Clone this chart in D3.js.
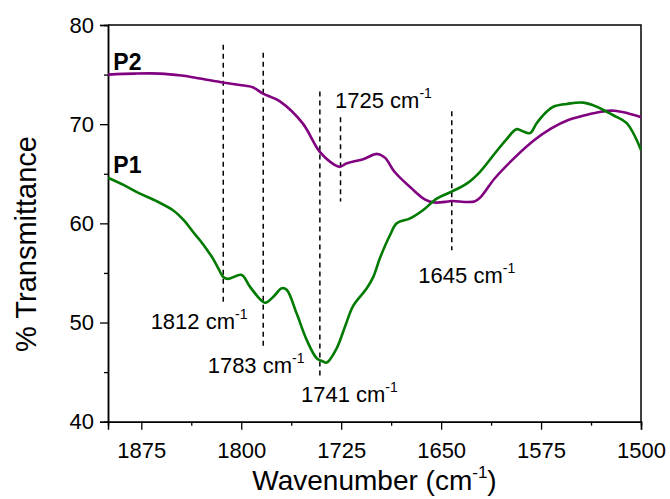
<!DOCTYPE html>
<html><head><meta charset="utf-8">
<script src="https://cdn.jsdelivr.net/npm/d3@7"></script>
<style>
html,body{margin:0;padding:0;background:#fff;}
text{font-family:"Liberation Sans",Arial,sans-serif;fill:#000;}
</style></head>
<body><svg id="chart" width="670" height="499"></svg>
<script>
// ---- data ----
const p2Wavenumber = [1900,1880,1861,1845,1831,1814,1801,1791,1784,1771,1754,1741,1730,1726,1721,1708,1698,1692,1685,1672,1662,1655,1645,1642,1625,1620,1610,1595,1580,1567,1555,1542,1530,1520,1510,1500];
const p2Trans      = [75.0,75.1,75.1,74.9,74.6,74.2,73.95,73.7,73.1,72.3,70.1,67.2,65.9,65.7,66.05,66.5,67.0,66.6,65.2,63.5,62.4,62.1,62.2,62.25,62.2,62.7,64.5,66.6,68.4,69.6,70.4,70.9,71.26,71.36,71.1,70.7];
const p1Wavenumber = [1900,1888,1876,1863,1851,1843,1836,1831,1826,1821,1817,1813.5,1809.7,1799.7,1793.4,1782.2,1775.9,1769.6,1765.9,1758.4,1750.9,1743.4,1739,1735.9,1728.4,1722.1,1715.9,1705.8,1700.9,1695.9,1688.4,1683.3,1673.3,1663.4,1653.3,1642.1,1630.8,1620.8,1609.6,1600.8,1593.3,1588.3,1583.3,1578.3,1572,1565.8,1555.8,1543.3,1533.2,1520.8,1510.7,1500];
const p1Trans      = [64.6,63.85,63.0,62.2,61.3,60.3,59.1,58.3,57.4,56.4,55.4,54.6,54.4,54.8,53.6,52.0,52.6,53.45,53.3,50.9,48.25,46.4,46.1,45.96,47.4,49.6,51.7,53.45,54.6,56.5,58.8,60.0,60.5,61.35,62.5,63.2,64.0,65.2,67.07,68.5,69.5,69.25,69.1,70.1,71.1,71.76,72.04,72.17,71.76,70.9,70.1,67.4];
const xMajorTicks = [1875,1800,1725,1650,1575,1500];
const xMinorTicks = [1837.5,1762.5,1687.5,1612.5,1537.5];
const yMajorTicks = [40,50,60,70,80];
const yMinorTicks = [45,55,65,75];
const markerWavenumber = [1813.5,1783.5,1741,1725.5,1642];
const markerTop        = [78,77.2,73.3,70.7,71.3];
const markerBottom     = [51.8,47.4,44.4,62.2,57.3];
const labelText  = ["1812","1783","1741","1725","1645"];
const labelWn    = [1868,1825.2,1755.2,1729.6,1667.1];
const labelVal   = [49.3,44.9,42.0,71.6,54.0];
const seriesNames = ["P2","P1"];
const seriesLabelVal = [75.5,65.05];

// ---- layout ----
const svg = d3.select("#chart");
const L=108, R=641, T=25, B=421.7;
const x = d3.scaleLinear().domain([1900,1500]).range([L,R]);
const y = d3.scaleLinear().domain([40,80]).range([B,T]);

svg.append("defs").append("clipPath").attr("id","clip")
  .append("rect").attr("x",L).attr("y",T).attr("width",R-L).attr("height",B-T);

svg.append("path").attr("d",`M${L},${T}H${R}V${B}`).attr("fill","none").attr("stroke","#000").attr("stroke-width",1.5);

svg.append("g").attr("transform",`translate(0,${B})`)
  .call(d3.axisBottom(x).tickValues(xMajorTicks).tickSize(8).tickPadding(13).tickFormat(d3.format("d")));
svg.append("g").attr("transform",`translate(0,${B})`)
  .call(d3.axisBottom(x).tickValues(xMinorTicks).tickSize(4).tickFormat(""));
svg.append("g").attr("transform",`translate(${L},0)`)
  .call(d3.axisLeft(y).tickValues(yMajorTicks).tickSize(8).tickPadding(6));
svg.append("g").attr("transform",`translate(${L},0)`)
  .call(d3.axisLeft(y).tickValues(yMinorTicks).tickSize(4).tickFormat(""));
svg.selectAll(".domain").attr("stroke","#000").attr("stroke-width",1.5);
svg.selectAll(".tick line").attr("stroke","#000").attr("stroke-width",1.3);
svg.selectAll(".tick text").attr("font-size",22).attr("font-family","'Liberation Sans',Arial,sans-serif").attr("fill","#000");

const xt = svg.append("text").attr("x",(L+R)/2).attr("y",490).attr("text-anchor","middle").attr("font-size",28);
xt.append("tspan").text("Wavenumber (cm");
xt.append("tspan").text("-1").attr("font-size",17).attr("dy",-12);
xt.append("tspan").text(")").attr("dy",12);
svg.append("text").attr("transform","translate(36,244) rotate(-90)").attr("text-anchor","middle").attr("font-size",29).text("% Transmittance");

svg.append("g").selectAll("line").data(markerWavenumber).join("line")
  .attr("x1",d=>x(d)).attr("x2",d=>x(d))
  .attr("y1",(d,i)=>y(markerTop[i])).attr("y2",(d,i)=>y(markerBottom[i]))
  .attr("stroke","#000").attr("stroke-width",1.5).attr("stroke-dasharray","5,4");

const line = d3.line().curve(d3.curveCatmullRom.alpha(0.5));
const g = svg.append("g").attr("clip-path","url(#clip)");
g.append("path").attr("d",line(p2Wavenumber.map((w,i)=>[x(w),y(p2Trans[i])])))
  .attr("fill","none").attr("stroke","#800080").attr("stroke-width",2.6);
g.append("path").attr("d",line(p1Wavenumber.map((w,i)=>[x(w),y(p1Trans[i])])))
  .attr("fill","none").attr("stroke","#007a00").attr("stroke-width",2.6);

labelText.forEach((t,i)=>{
  const tx = svg.append("text").attr("x",x(labelWn[i])).attr("y",y(labelVal[i])).attr("font-size",22);
  tx.append("tspan").text(t+" cm");
  tx.append("tspan").text("-1").attr("font-size",14).attr("dy",-10);
});
seriesNames.forEach((s,i)=>{
  svg.append("text").attr("x",x(1896)).attr("y",y(seriesLabelVal[i])).attr("font-size",23).attr("font-weight","bold").text(s);
});
</script></body></html>
